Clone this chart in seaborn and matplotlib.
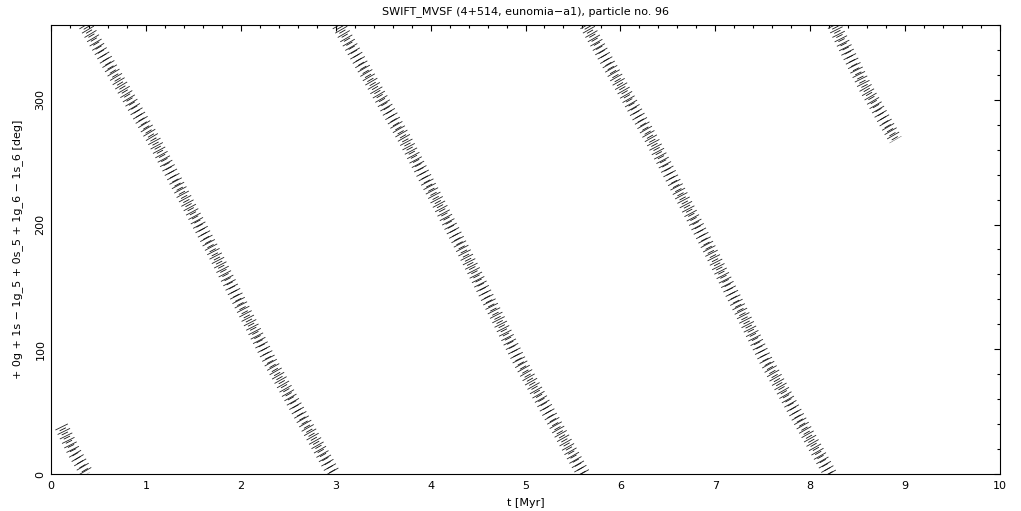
import numpy as np
import pandas as pd
import matplotlib
matplotlib.use("Agg")
from matplotlib import pyplot as plt
from matplotlib.ticker import MultipleLocator
import seaborn as sns

title = "SWIFT_MVSF (4+514, eunomia\u2212a1), particle no. 96"
xlabel = "t [Myr]"
ylabel = "+ 0g + 1s \u2212 1g_5 + 0s_5 + 1g_6 \u2212 1s_6 [deg]"

# centre lines of the dotted bands (t in Myr, angle in deg)
band_a_t = [0.11, 0.24, 0.38]
band_a_y = [38, 18, 0]
band_b_t = [0.36, 1.08, 1.70, 2.31, 2.98]
band_b_y = [360, 268, 180, 90, 0]
band_c_t = [3.03, 3.73, 4.34, 4.94, 5.61]
band_c_y = [360, 268, 180, 90, 0]
band_d_t = [5.64, 6.33, 6.94, 7.54, 8.21]
band_d_y = [360, 268, 180, 90, 0]
band_e_t = [8.25, 8.58, 8.90]
band_e_y = [360, 310, 268]

frames = []
for name, t, y in [("a", band_a_t, band_a_y), ("b", band_b_t, band_b_y),
                   ("c", band_c_t, band_c_y), ("d", band_d_t, band_d_y),
                   ("e", band_e_t, band_e_y)]:
    frames.append(pd.DataFrame({"t": t, "angle": y, "band": name}))
df = pd.concat(frames, ignore_index=True)

sns.set_style("white")
plt.rcParams['font.family'] = ['DejaVu Sans']
plt.rcParams['font.size'] = 8
plt.rcParams['text.color'] = 'black'
plt.rcParams['axes.labelcolor'] = 'black'

fig = plt.figure(figsize=(10.21, 5.11), dpi=100)
ax = fig.add_axes([51 / 1021, 37 / 511, 949 / 1021, 449 / 511])

# wide speckled band
sns.lineplot(data=df, x="t", y="angle", units="band", estimator=None,
             sort=False, color="#222222", linewidth=10, ax=ax, legend=False)
n_wide = len(ax.lines)
# narrower, denser core
sns.lineplot(data=df, x="t", y="angle", units="band", estimator=None,
             sort=False, color="#111111", linewidth=5, ax=ax, legend=False)
for i, ln in enumerate(ax.lines):
    if i < n_wide:
        ln.set_linestyle((0, (0.06, 0.3)))
    else:
        ln.set_linestyle((0.3, (0.12, 0.55)))
    ln.set_solid_capstyle("butt")
    ln.set_dash_capstyle("butt")

ax.set_xlim(0, 10)
ax.set_ylim(0, 360)
ax.xaxis.set_major_locator(MultipleLocator(1))
ax.xaxis.set_minor_locator(MultipleLocator(0.2))
ax.yaxis.set_major_locator(MultipleLocator(100))
ax.yaxis.set_minor_locator(MultipleLocator(20))
ax.tick_params(which="both", direction="in", top=True, right=True,
               width=0.8, color="black", labelsize=8, labelcolor="black")
ax.tick_params(which="major", length=4.5)
ax.tick_params(which="minor", length=2.5)
ax.tick_params(axis="x", pad=5)
ax.tick_params(axis="y", pad=4)
for lbl in ax.get_yticklabels():
    lbl.set_rotation(90)
    lbl.set_va("center")
for sp in ax.spines.values():
    sp.set_linewidth(0.8)
    sp.set_color("black")

ax.set_title(title, fontsize=8, pad=8, color="black")
ax.set_xlabel(xlabel, fontsize=8, labelpad=5)
ax.set_ylabel(ylabel, fontsize=8, labelpad=9)

fig.savefig("out.png", dpi=100, facecolor="white")
